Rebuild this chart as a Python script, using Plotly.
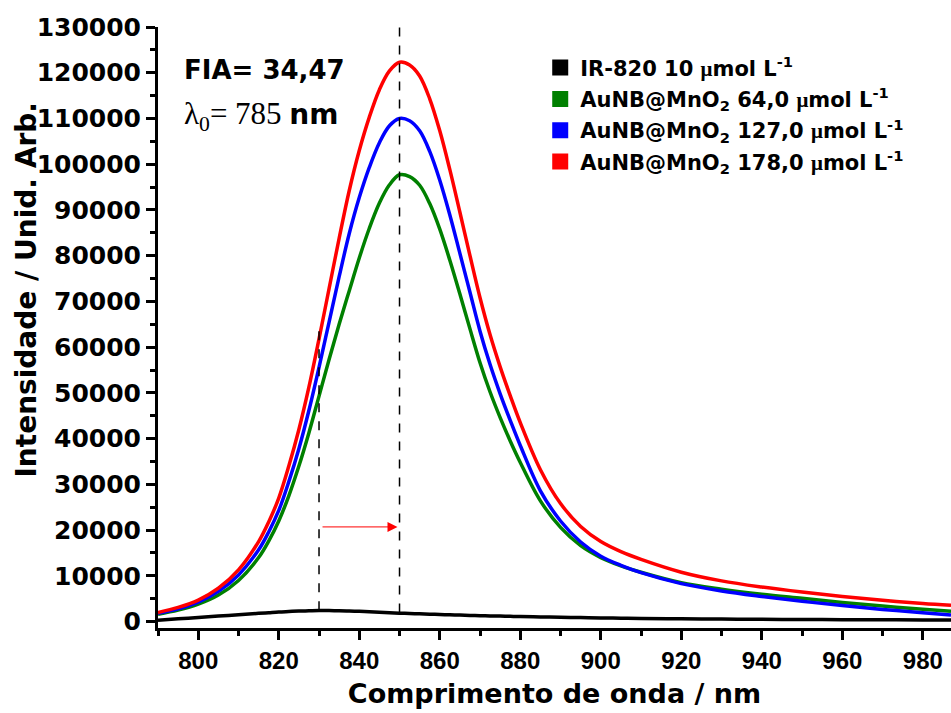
import plotly.graph_objects as go

wavelength = [790, 795, 800, 805, 810, 815, 817.5, 820, 822.5, 825, 827.5, 830, 832.5, 835, 837.5, 840,
              842.5, 845, 847.5, 850, 852.5, 855, 857.5, 860, 862.5, 865, 867.5, 870, 872.5, 875, 877.5, 880,
              885, 890, 895, 900, 905, 910, 920, 930, 940, 950, 960, 970, 980, 987]

ir820 = [300, 600, 900, 1200, 1500, 1800, 1950, 2100, 2200, 2300, 2350, 2400, 2400, 2380, 2320, 2250,
         2150, 2050, 1950, 1850, 1780, 1700, 1620, 1550, 1480, 1420, 1360, 1300, 1250, 1200, 1150, 1100,
         1020, 950, 880, 800, 750, 700, 620, 560, 500, 460, 430, 400, 370, 350]

au_64 = [1600, 2500, 3800, 5800, 9000, 14000, 17600, 22000, 27500, 34000, 41300, 49300, 57300, 65000, 72300, 79500,
         86000, 91500, 95500, 97700, 97300, 95400, 91400, 85800, 79000, 71600, 64000, 56600, 50200, 44600, 39500, 34800,
         26400, 20600, 16600, 14000, 12200, 10800, 8500, 7100, 6000, 5100, 4200, 3400, 2700, 2250]

au_127 = [1800, 2800, 4250, 6600, 10200, 15700, 19600, 24300, 30600, 37800, 46200, 55600, 65500, 75400, 84800, 92700,
          99300, 104700, 108400, 110000, 109500, 107300, 102800, 96500, 88900, 80500, 72000, 63500, 56200, 49800, 44000, 38500,
          28600, 22000, 17400, 14300, 12300, 10700, 8300, 6700, 5500, 4450, 3500, 2650, 1950, 1450]

au_178 = [2000, 3100, 4700, 7300, 11300, 17500, 21800, 27000, 34000, 42000, 51300, 61800, 72800, 83800, 94200, 103000,
          110300, 116300, 120400, 122300, 121700, 119300, 114300, 107300, 98800, 89500, 80000, 70800, 62700, 55700, 49400, 43500,
          33200, 25800, 20800, 17500, 15300, 13600, 10800, 8900, 7550, 6450, 5500, 4650, 3950, 3550]

MU = "<span style='font-family:Liberation Serif'>μ</span>"
series_names = [f"IR-820 10 {MU}mol L<sup>-1</sup>",
                f"AuNB@MnO<sub>2</sub> 64,0 {MU}mol L<sup>-1</sup>",
                f"AuNB@MnO<sub>2</sub> 127,0 {MU}mol L<sup>-1</sup>",
                f"AuNB@MnO<sub>2</sub> 178,0 {MU}mol L<sup>-1</sup>"]
series_values = [ir820, au_64, au_127, au_178]
series_colors = ["#000000", "#008000", "#0000ff", "#ff0000"]

x_ticks = [800, 820, 840, 860, 880, 900, 920, 940, 960, 980]
y_ticks = list(range(0, 130001, 10000))

BOLD = "DejaVu Sans"

fig = go.Figure()

for name, vals, col in zip(series_names, series_values, series_colors):
    fig.add_trace(go.Scatter(x=wavelength, y=vals, mode="lines",
                             line=dict(color=col, width=3.5, shape="spline", smoothing=1.0),
                             showlegend=False, hoverinfo="skip"))

for i, (name, col) in enumerate(zip(series_names, series_colors)):
    fig.add_trace(go.Scatter(x=[None], y=[None], mode="markers", name=name, legendgroup=f"g{i}",
                             marker=dict(symbol="square", size=21, color=col, line=dict(width=0))))

# dashed guide lines
fig.add_shape(type="line", x0=830, x1=830, y0=2500, y1=64000, xref="x", yref="y",
              line=dict(color="black", width=1.5, dash="dash"))
fig.add_shape(type="line", x0=850, x1=850, y0=2000, y1=130000, xref="x", yref="y",
              line=dict(color="black", width=1.5, dash="dash"))

# red arrow
fig.add_annotation(x=849.5, y=20700, ax=830.5, ay=20700, xref="x", yref="y", axref="x", ayref="y",
                   text="", showarrow=True, arrowhead=2, arrowsize=2, arrowwidth=1, arrowcolor="#ff0000")

fig.add_annotation(x=0.03, y=0.928, xref="paper", yref="paper", xanchor="left", yanchor="middle",
                   text="FIA= 34,47", showarrow=False,
                   font=dict(family=BOLD, size=26, color="black", weight="bold"))
fig.add_annotation(x=0.03, y=0.852, xref="paper", yref="paper", xanchor="left", yanchor="middle",
                   text="<span style='font-family:Liberation Serif;font-weight:normal;font-size:31px'>λ<sub>0</sub>= 785 </span>nm",
                   showarrow=False,
                   font=dict(family=BOLD, size=28, color="black", weight="bold"))

# y-axis title (placed as text so it sits where the original does)
fig.add_annotation(x=-0.166, y=0.562, xref="paper", yref="paper", xanchor="center", yanchor="middle",
                   text="Intensidade / Unid. Arb.", textangle=-90, showarrow=False,
                   font=dict(family=BOLD, size=28, color="black", weight="bold"))

fig.update_layout(
    width=951, height=713,
    margin=dict(l=158, r=0, t=27, b=85),
    paper_bgcolor="white", plot_bgcolor="white",
    showlegend=True,
    legend=dict(x=0.482, y=0.966, xanchor="left", yanchor="top", bgcolor="rgba(0,0,0,0)",
                font=dict(family=BOLD, size=21, color="black", weight="bold"),
                tracegroupgap=1, itemsizing="trace"),
    xaxis=dict(range=[790, 987], tickvals=x_ticks, ticks="outside", ticklen=9, tickwidth=2.5, tickcolor="black",
               showline=True, linewidth=3, linecolor="black", showgrid=False, zeroline=False,
               tickfont=dict(family="Liberation Sans Narrow, Liberation Sans", size=24, color="black", weight="bold"),
               minor=dict(dtick=10, ticks="outside", ticklen=5, tickwidth=2.5, tickcolor="black", showgrid=False),
               title=dict(text="Comprimento de onda / nm", standoff=12,
                          font=dict(family=BOLD, size=27, color="black", weight="bold"))),
    yaxis=dict(range=[-1400, 130000], tickvals=y_ticks, tickformat="d", ticks="outside", ticklen=9, tickwidth=2.5,
               tickcolor="black", showline=True, linewidth=3, linecolor="black", showgrid=False, zeroline=False,
               tickfont=dict(family=BOLD, size=25, color="black", weight="bold"),
               minor=dict(dtick=5000, ticks="outside", ticklen=5, tickwidth=2.5, tickcolor="black", showgrid=False)),
)

fig.write_html("out.html")
